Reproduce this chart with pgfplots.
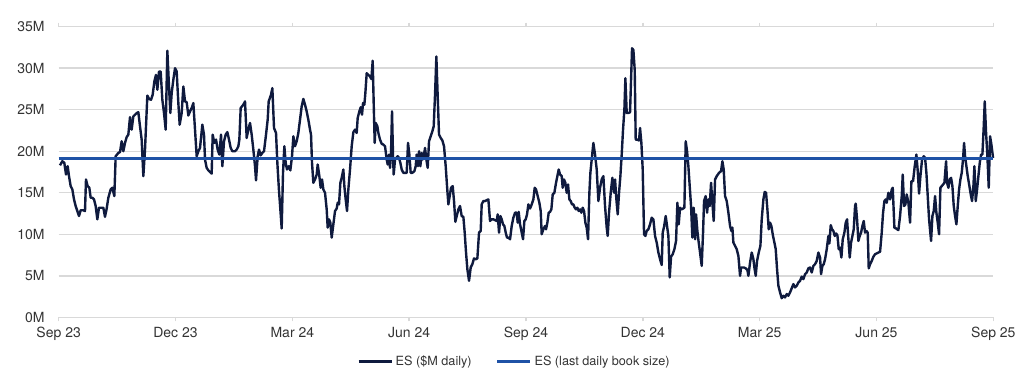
\documentclass[border=0pt]{standalone}
\usepackage{fontspec}
\setmainfont{TeX Gyre Heros}
\usepackage{pgfplots}
\pgfplotsset{compat=1.18}
\definecolor{navy}{HTML}{0F1A3E}
\definecolor{bookblue}{HTML}{1F52A6}
\definecolor{gridgray}{HTML}{D9D9D9}
\definecolor{labgray}{HTML}{333333}
\begin{document}
\begin{tikzpicture}
\useasboundingbox (-44pt,-48.5pt) rectangle (724pt,238pt);
\begin{axis}[
  scale only axis,
  width=701pt, height=218pt,
  xmin=0, xmax=2803.8,
  ymin=0, ymax=35,
  axis line style={draw=none},
  ymajorgrids, grid style={gridgray, line width=1.1pt},
  ytick={0,5,10,15,20,25,30,35},
  yticklabels={0M,5M,10M,15M,20M,25M,30M,35M},
  xtick={0,350.5,701,1051.4,1401.9,1752.4,2102.9,2453.3,2803.8},
  xticklabels={Sep 23,Dec 23,Mar 24,Jun 24,Sep 24,Dec 24,Mar 25,Jun 25,Sep 25},
  tick align=outside,
  ytick style={draw=none},
  xtick style={draw=gridgray, line width=1.1pt},
  major tick length=3pt,
  ticklabel style={font=\fontsize{10.5}{12}\selectfont, text=labgray},
  yticklabel style={xshift=-4pt},
  xticklabel style={yshift=-1pt},
  legend style={at={(0.488,-0.152)}, anchor=center, draw=none, fill=none,
    legend columns=2, font=\fontsize{9.5}{11}\selectfont, text=labgray,
    /tikz/every even column/.append style={column sep=16pt},
    inner sep=0pt},
  legend cell align=left,
  legend image code/.code={\draw[#1] (0pt,0pt) -- (25pt,0pt);},
  clip=false,
]
\addplot[navy, line width=1.8pt, line join=round] table {
4 18.3
11 18.8
17 18.6
22 17.2
27 18.2
31 17.0
36 15.8
41 15.4
46 14.2
51 13.4
56 12.8
61 12.2
66 12.9
74 12.9
79 12.8
82 16.6
87 15.8
92 15.6
96 14.4
101 14.4
106 14.2
111 13.4
116 11.8
121 13.2
129 13.2
134 13.2
139 12.1
144 13.1
149 14.4
156 15.4
161 15.6
167 14.6
171 19.4
179 19.8
184 19.9
189 21.2
194 20.0
199 21.0
204 21.7
209 22.0
214 24.1
219 22.6
224 24.2
229 24.4
234 24.6
239 24.7
244 23.0
249 21.4
254 17.0
259 20.2
266 26.7
271 26.3
277 26.2
282 26.8
287 28.4
292 29.2
296 27.4
301 29.6
306 29.6
311 26.2
316 24.6
321 22.6
326 32.1
331 27.8
335 24.6
339 27.0
344 28.6
349 30.0
354 29.6
359 25.8
363 23.2
369 24.6
374 27.8
379 26.0
384 25.9
389 24.3
394 24.8
399 25.2
404 25.8
409 22.6
414 19.4
419 20.0
424 20.4
431 23.2
436 22.0
439 19.0
444 18.0
449 17.7
454 17.5
459 17.3
462 22.0
467 21.0
472 21.4
477 20.2
482 19.6
487 22.0
491 18.2
496 21.2
501 22.0
506 22.3
511 21.4
516 20.4
521 20.0
529 20.0
534 20.2
539 20.6
542 21.4
546 25.2
554 25.6
559 26.0
564 21.6
569 22.6
574 23.4
579 22.0
584 20.2
589 18.2
592 16.5
597 19.4
601 20.2
606 19.5
611 19.8
616 20.0
622 22.0
627 23.8
630 26.0
637 26.8
641 27.6
646 22.8
652 22.2
656 18.6
661 15.2
665 13.0
669 10.7
673 17.4
677 20.6
681 18.6
685 17.8
690 18.2
695 17.7
700 19.4
704 21.8
709 20.6
714 21.2
719 22.2
724 23.8
729 25.4
734 26.3
739 25.6
744 24.8
749 23.8
754 22.6
757 22.0
760 18.6
764 16.2
769 16.6
774 17.2
777 18.4
782 17.0
786 15.6
790 16.6
794 15.4
799 15.0
804 13.0
807 10.8
811 11.8
815 11.4
819 9.6
824 11.2
829 12.8
834 13.1
837 13.8
841 13.6
845 16.2
849 16.8
854 17.8
857 15.8
861 14.2
865 12.8
869 15.4
874 17.8
879 20.6
884 22.3
889 22.6
894 22.2
897 24.0
902 24.8
906 25.3
910 24.4
913 25.8
917 25.6
920 27.0
924 29.4
929 29.2
934 29.0
938 28.7
942 30.9
945 25.8
948 21.0
951 23.4
956 23.0
959 22.2
964 21.4
969 20.9
974 20.8
979 20.6
984 19.0
987 18.4
991 19.6
994 18.0
997 19.8
1000 24.8
1003 19.4
1005 17.2
1009 19.0
1013 19.2
1017 19.4
1021 19.2
1025 18.6
1029 17.8
1034 17.4
1039 17.4
1044 17.4
1048 21.0
1052 19.6
1056 17.4
1061 17.4
1067 17.6
1071 18.2
1074 19.6
1078 18.2
1081 20.0
1085 18.2
1089 19.8
1092 19.0
1096 19.6
1099 20.4
1103 19.0
1107 18.0
1111 21.2
1116 21.8
1121 22.4
1125 23.0
1129 26.8
1133 31.4
1137 26.6
1141 22.0
1146 21.6
1151 21.3
1156 20.6
1161 18.2
1165 15.8
1169 13.6
1173 14.6
1177 15.6
1182 15.8
1186 14.0
1190 11.5
1194 12.2
1199 13.0
1204 13.4
1209 12.2
1214 12.1
1218 10.2
1222 7.8
1226 5.8
1231 4.4
1236 6.0
1241 6.4
1246 7.1
1251 7.0
1256 7.1
1261 10.2
1266 10.4
1269 13.6
1274 14.0
1279 14.0
1284 14.1
1289 14.2
1294 11.6
1299 11.8
1304 11.8
1309 11.7
1314 11.6
1317 12.4
1321 10.2
1325 12.2
1329 11.8
1333 11.2
1337 11.0
1341 10.2
1345 9.6
1349 9.6
1354 9.4
1359 11.0
1364 12.0
1369 12.6
1374 12.6
1377 11.4
1380 12.7
1384 11.2
1389 10.2
1393 9.4
1397 11.6
1401 11.8
1405 12.4
1409 13.6
1414 13.1
1419 13.6
1424 14.2
1428 15.6
1432 15.4
1437 14.6
1442 13.8
1446 12.8
1449 10.0
1454 10.6
1459 11.0
1462 10.6
1466 11.4
1470 12.6
1474 12.7
1478 13.0
1482 14.8
1487 15.0
1492 16.2
1496 17.0
1500 17.8
1504 17.2
1509 17.0
1512 15.6
1516 16.6
1520 16.2
1524 15.0
1528 16.0
1532 14.2
1536 14.0
1540 13.6
1544 13.6
1548 13.2
1552 13.0
1556 13.2
1560 12.8
1564 13.0
1568 12.6
1572 13.2
1576 12.8
1580 11.4
1584 10.8
1588 9.4
1592 15.0
1595 17.4
1599 19.0
1604 21.0
1609 19.6
1614 17.8
1619 14.0
1624 15.6
1629 16.6
1634 17.0
1639 13.4
1644 10.8
1647 9.8
1651 12.6
1656 15.0
1661 16.8
1666 15.0
1669 16.6
1673 14.2
1677 12.4
1681 15.0
1685 17.0
1689 19.6
1693 22.6
1697 25.0
1700 28.8
1704 24.6
1709 24.6
1714 24.7
1720 32.4
1724 32.2
1728 29.8
1731 21.4
1736 21.4
1741 21.3
1744 22.8
1748 21.0
1752 17.8
1756 10.0
1760 9.8
1764 10.4
1769 10.6
1774 11.2
1779 12.0
1784 11.8
1789 9.8
1794 9.0
1799 7.8
1804 7.0
1809 6.3
1812 10.2
1816 10.9
1821 12.2
1825 11.0
1829 9.8
1833 4.8
1837 7.3
1842 7.6
1847 8.2
1852 9.2
1856 13.8
1860 11.2
1864 13.2
1868 13.0
1873 13.1
1877 13.2
1881 21.2
1885 20.0
1889 18.2
1893 15.8
1897 13.4
1901 9.6
1905 13.2
1909 9.4
1912 12.4
1916 10.4
1920 9.0
1924 7.8
1929 6.2
1933 10.2
1936 14.0
1941 14.6
1945 12.6
1949 14.2
1953 13.4
1957 16.2
1961 13.8
1965 11.6
1969 16.6
1974 17.0
1981 17.4
1987 17.6
1991 18.8
1995 17.8
1999 14.6
2004 14.0
2009 12.6
2014 11.0
2018 10.4
2021 10.8
2024 9.0
2029 8.6
2034 8.2
2039 7.4
2044 5.0
2047 6.0
2051 6.0
2056 6.0
2061 5.9
2066 5.7
2069 5.0
2074 6.6
2079 7.8
2084 7.0
2087 6.0
2091 5.0
2095 6.8
2100 7.8
2105 8.6
2109 11.8
2114 14.2
2118 15.1
2122 15.0
2126 13.0
2130 10.6
2134 11.4
2138 11.0
2142 10.0
2146 9.2
2151 8.2
2155 5.8
2159 3.8
2164 3.0
2169 2.3
2174 2.6
2179 2.4
2184 2.8
2189 2.6
2194 3.0
2199 3.5
2204 4.0
2209 3.6
2214 3.8
2219 4.2
2224 4.4
2229 4.9
2234 4.6
2239 5.2
2244 5.4
2249 5.9
2254 6.0
2259 5.4
2264 6.2
2269 6.4
2274 6.8
2279 7.8
2284 7.2
2287 5.2
2291 6.2
2295 6.4
2299 7.0
2304 8.2
2309 9.8
2312 8.9
2316 11.1
2320 10.6
2324 10.4
2328 9.8
2332 10.1
2336 9.9
2340 8.2
2344 8.4
2348 7.2
2352 9.4
2357 10.2
2361 11.4
2365 11.8
2369 9.4
2373 7.2
2377 9.0
2381 9.8
2385 10.6
2389 13.4
2391 13.7
2395 11.8
2399 9.2
2403 9.8
2407 10.2
2411 11.0
2415 11.6
2419 10.2
2423 10.4
2427 10.2
2430 5.9
2434 6.4
2439 6.8
2444 7.3
2449 7.6
2454 7.7
2459 7.8
2464 7.9
2469 10.2
2473 12.6
2477 14.0
2481 14.2
2484 13.8
2489 15.0
2494 14.2
2499 15.4
2502 15.6
2507 10.8
2512 10.7
2519 10.5
2524 12.2
2529 14.6
2532 17.2
2536 13.4
2540 13.6
2544 14.8
2549 13.8
2554 11.4
2558 16.4
2563 16.4
2568 18.2
2573 19.6
2577 17.6
2581 14.9
2585 17.0
2590 19.0
2595 19.4
2599 19.2
2603 17.4
2607 14.6
2611 11.8
2617 9.2
2621 12.2
2625 12.8
2629 14.6
2633 12.6
2637 11.4
2641 10.0
2645 15.6
2649 15.8
2653 16.0
2657 16.2
2662 18.8
2665 16.2
2669 15.6
2673 16.6
2677 16.8
2681 15.8
2685 13.4
2689 12.2
2693 11.2
2697 13.4
2701 15.4
2705 16.6
2709 17.4
2713 19.1
2716 21.0
2719 19.4
2723 18.2
2727 17.0
2732 15.8
2736 14.8
2740 14.0
2744 15.8
2747 18.2
2751 14.0
2755 15.4
2759 17.0
2763 18.6
2767 19.6
2771 19.6
2775 23.0
2778 26.0
2782 22.2
2786 19.4
2790 15.6
2794 21.8
2798 20.8
2803 19.2
};
\addlegendentry{ES (\$M daily)}
\addplot[bookblue, line width=2.2pt] coordinates {(0,19.1) (2803.8,19.1)};
\addlegendentry{ES (last daily book size)}
\end{axis}
\end{tikzpicture}
\end{document}
